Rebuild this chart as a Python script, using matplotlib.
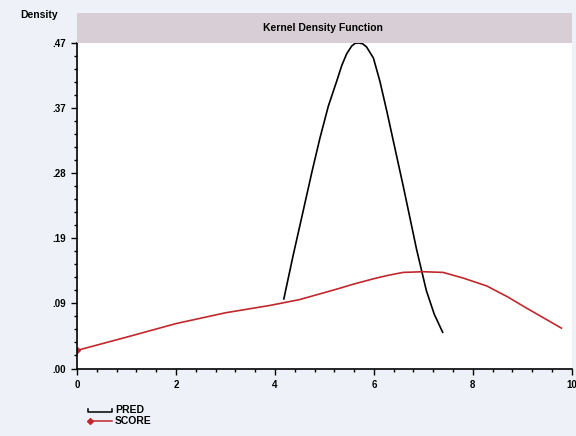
import matplotlib
matplotlib.use("Agg")
import matplotlib.pyplot as plt
from matplotlib.lines import Line2D
from matplotlib.patches import Rectangle

# values
pred_x = [4.18, 4.37, 4.57, 4.75, 4.91, 5.08, 5.25, 5.35, 5.45, 5.55, 5.62, 5.69,
          5.77, 5.85, 5.99, 6.12, 6.26, 6.42, 6.59, 6.73, 6.86, 7.06, 7.22, 7.39]
pred_y = [0.100, 0.163, 0.226, 0.283, 0.331, 0.377, 0.413, 0.435, 0.452, 0.463, 0.467, 0.4675,
          0.4665, 0.462, 0.446, 0.413, 0.370, 0.318, 0.263, 0.216, 0.172, 0.112, 0.078, 0.052]

score_x = [0.0, 1.0, 2.0, 3.0, 3.9, 4.5, 5.25, 5.58, 6.0, 6.3, 6.59, 7.0, 7.4, 7.8, 8.28, 8.7, 9.08, 9.79]
score_y = [0.026, 0.045, 0.0645, 0.080, 0.0906, 0.099, 0.114, 0.121, 0.129, 0.134, 0.138, 0.139,
           0.138, 0.130, 0.1186, 0.103, 0.087, 0.058]

y_ticks = [0.0, 0.0935, 0.187, 0.2805, 0.374, 0.4675]
y_labels = [".00", ".09", ".19", ".28", ".37", ".47"]
x_ticks = [0, 2, 4, 6, 8, 10]

bg = "#eef2f8"
band = "#d7cfd5"
red = "#c0282d"
font = "Liberation Sans"

fig = plt.figure(figsize=(5.76, 4.36), dpi=100, facecolor=bg)
ax = fig.add_axes([0.1337, 0.1548, 0.859, 0.7466])
ax.set_facecolor("white")

ax.plot(pred_x, pred_y, color="black", lw=1.2)
ax.plot(score_x, score_y, color=red, lw=1.2, marker="D", markersize=3, markevery=[0])

ax.set_xlim(0, 10)
ax.set_ylim(0, 0.4675)
ax.set_xticks(x_ticks)
ax.set_xticklabels([str(t) for t in x_ticks], fontsize=7, fontweight="bold", family=font)
ax.set_xticks([i * 0.4 for i in range(26)], minor=True)
ax.set_yticks(y_ticks)
ax.set_yticklabels(y_labels, fontsize=7, fontweight="bold", family=font)
ax.set_yticks([i * 0.0187 for i in range(26)], minor=True)
ax.tick_params(which="major", length=4, width=1, direction="out", pad=4)
ax.tick_params(which="minor", length=2, width=1, direction="out")

for s in ["top", "right"]:
    ax.spines[s].set_visible(False)
for s in ["left", "bottom"]:
    ax.spines[s].set_linewidth(1.2)

# title band
fig.add_artist(Rectangle((0.1337, 0.9014), 0.859, 0.0688, transform=fig.transFigure,
                         facecolor=band, edgecolor="none"))
fig.text(0.56, 0.935, "Kernel Density Function", ha="center", va="center",
         fontsize=7.5, fontweight="bold", family=font)
fig.text(0.035, 0.966, "Density", ha="left", va="center",
         fontsize=7.5, fontweight="bold", family=font)

# legend at bottom left
fig.add_artist(Line2D([0.153, 0.153, 0.195, 0.195], [0.061, 0.055, 0.055, 0.061],
                      transform=fig.transFigure, color="black", lw=1.1))
fig.add_artist(Line2D([0.157, 0.195], [0.034, 0.034], transform=fig.transFigure,
                      color=red, lw=1.1))
fig.add_artist(Line2D([0.157], [0.034], transform=fig.transFigure, color=red,
                      marker="D", markersize=3, lw=0))
fig.text(0.2, 0.059, "PRED", ha="left", va="center", fontsize=7.5,
         fontweight="bold", family=font)
fig.text(0.2, 0.035, "SCORE", ha="left", va="center", fontsize=7.5,
         fontweight="bold", family=font)

fig.savefig("out.png", dpi=100, facecolor=bg)
